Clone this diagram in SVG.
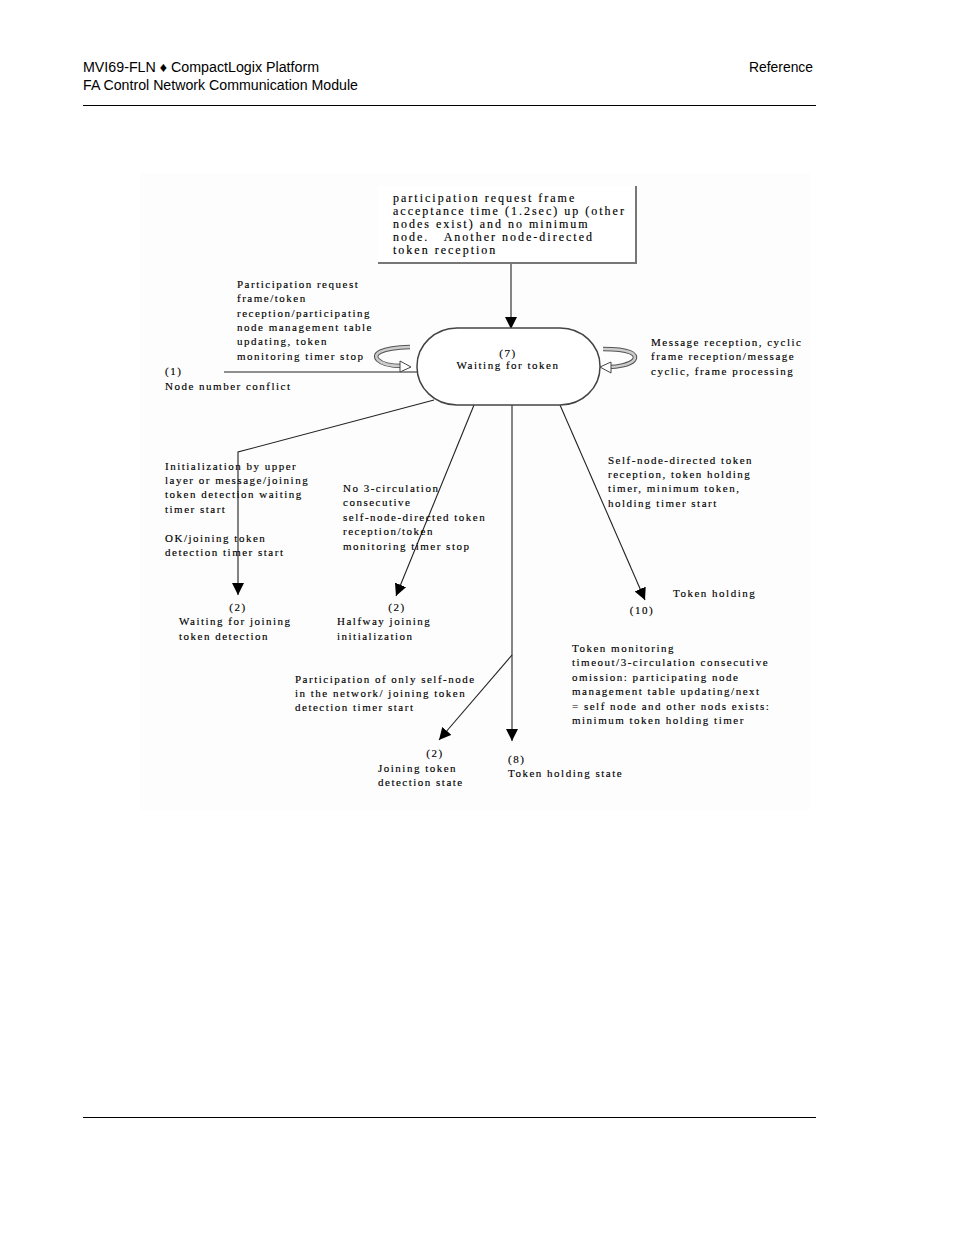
<svg xmlns="http://www.w3.org/2000/svg" width="954" height="1235" viewBox="0 0 954 1235">
<style>
.hdr{font-family:"Liberation Sans",Arial,sans-serif;font-size:14px;fill:#000}
.t{font-family:"Liberation Serif","Times New Roman",serif;font-size:11px;letter-spacing:1.5px;fill:#000;stroke:#000;stroke-width:0.15}
.b{font-size:12px;letter-spacing:2px}
.c{text-anchor:middle}
.ln{stroke:#222;stroke-width:1.1;fill:none}
.rule{stroke:#000;stroke-width:1}
</style>
<defs>
<marker id="ah" viewBox="0 0 12 12" refX="12" refY="6" markerWidth="12" markerHeight="12" markerUnits="userSpaceOnUse" orient="auto">
<path d="M0,0 L12,6 L0,12 z" fill="#000"/>
</marker>
</defs>
<rect width="954" height="1235" fill="#fff"/>
<rect x="140" y="173" width="670" height="637" fill="#fdfdfd"/>
<g id="header">
<text class="hdr" x="83" y="72" textLength="236" lengthAdjust="spacingAndGlyphs">MVI69-FLN ♦ CompactLogix Platform</text>
<text class="hdr" x="83" y="90" textLength="275" lengthAdjust="spacingAndGlyphs">FA Control Network Communication Module</text>
<text class="hdr" x="813" y="72" text-anchor="end" textLength="64" lengthAdjust="spacingAndGlyphs">Reference</text>
<line class="rule" x1="83" y1="105.5" x2="816" y2="105.5"/>
</g>
<g id="footer"><line class="rule" x1="83" y1="1117.5" x2="816" y2="1117.5"/></g>

<g id="connectors">
<line class="ln" x1="511" y1="263" x2="511" y2="329" marker-end="url(#ah)"/>
<line class="ln" x1="224" y1="372" x2="417" y2="372"/>
<polyline class="ln" points="434,400 238,452 238,595" marker-end="url(#ah)"/>
<line class="ln" x1="474" y1="405" x2="396" y2="596" marker-end="url(#ah)"/>
<line class="ln" x1="512" y1="405" x2="512" y2="741" marker-end="url(#ah)"/>
<line class="ln" x1="512" y1="655" x2="439" y2="740" marker-end="url(#ah)"/>
<line class="ln" x1="560" y1="405" x2="645" y2="600" marker-end="url(#ah)"/>
<!-- self loops -->
<path d="M410,347 C380,348 372,354 378,360 C383,365 395,366 402,366" fill="none" stroke="#555" stroke-width="4.5"/>
<path d="M410,347 C380,348 372,354 378,360 C383,365 395,366 402,366" fill="none" stroke="#ccc" stroke-width="2.5"/>
<path d="M400,361 L411,367 L400,372 z" fill="#fff" stroke="#444" stroke-width="1"/>
<path d="M603,349 C630,349 638,354 634,360 C630,365 616,367 609,367" fill="none" stroke="#555" stroke-width="4.5"/>
<path d="M603,349 C630,349 638,354 634,360 C630,365 616,367 609,367" fill="none" stroke="#ccc" stroke-width="2.5"/>
<path d="M611,362 L600,367 L611,373 z" fill="#fff" stroke="#444" stroke-width="1"/>
</g>

<g id="n-top">
<rect x="378" y="186" width="258" height="77" fill="#fff"/>
<polyline points="636,186 636,263 378,263" fill="none" stroke="#777" stroke-width="2"/>
<text class="t b" x="393" y="202">participation request frame</text>
<text class="t b" x="393" y="215">acceptance time (1.2sec) up (other</text>
<text class="t b" x="393" y="228">nodes exist) and no minimum</text>
<text class="t b" x="393" y="241" xml:space="preserve">node.   Another node-directed</text>
<text class="t b" x="393" y="254">token reception</text>
</g>

<g id="n7">
<rect x="417" y="328" width="183" height="77" rx="40" ry="38" fill="#fff" stroke="#444" stroke-width="1.5"/>
<text class="t c" x="508" y="357">(7)</text>
<text class="t c" x="508" y="369">Waiting for token</text>
</g>

<g id="lbl-left">
<text class="t" x="237" y="288">Participation request</text>
<text class="t" x="237" y="302">frame/token</text>
<text class="t" x="237" y="317">reception/participating</text>
<text class="t" x="237" y="331">node management table</text>
<text class="t" x="237" y="345">updating, token</text>
<text class="t" x="237" y="360">monitoring timer stop</text>
</g>

<g id="n1">
<text class="t" x="165" y="375">(1)</text>
<text class="t" x="165" y="390">Node number conflict</text>
</g>

<g id="lbl-right">
<text class="t" x="651" y="346">Message reception, cyclic</text>
<text class="t" x="651" y="360">frame reception/message</text>
<text class="t" x="651" y="375">cyclic, frame processing</text>
</g>

<g id="lbl-init">
<text class="t" x="165" y="470">Initialization by upper</text>
<text class="t" x="165" y="484">layer or message/joining</text>
<text class="t" x="165" y="498">token detection waiting</text>
<text class="t" x="165" y="513">timer start</text>
<text class="t" x="165" y="542">OK/joining token</text>
<text class="t" x="165" y="556">detection timer start</text>
</g>

<g id="n2a">
<text class="t c" x="238" y="611">(2)</text>
<text class="t" x="179" y="625">Waiting for joining</text>
<text class="t" x="179" y="640">token detection</text>
</g>

<g id="lbl-no3">
<text class="t" x="343" y="492">No 3-circulation</text>
<text class="t" x="343" y="506">consecutive</text>
<text class="t" x="343" y="521">self-node-directed token</text>
<text class="t" x="343" y="535">reception/token</text>
<text class="t" x="343" y="550">monitoring timer stop</text>
</g>

<g id="n2b">
<text class="t c" x="397" y="611">(2)</text>
<text class="t" x="337" y="625">Halfway joining</text>
<text class="t" x="337" y="640">initialization</text>
</g>

<g id="lbl-self">
<text class="t" x="608" y="464">Self-node-directed token</text>
<text class="t" x="608" y="478">reception, token holding</text>
<text class="t" x="608" y="492">timer, minimum token,</text>
<text class="t" x="608" y="507">holding timer start</text>
</g>

<g id="n10">
<text class="t" x="673" y="597">Token holding</text>
<text class="t c" x="642" y="614">(10)</text>
</g>

<g id="lbl-only">
<text class="t" x="295" y="683">Participation of only self-node</text>
<text class="t" x="295" y="697">in the network/ joining token</text>
<text class="t" x="295" y="711">detection timer start</text>
</g>

<g id="n2c">
<text class="t c" x="435" y="757">(2)</text>
<text class="t" x="378" y="772">Joining token</text>
<text class="t" x="378" y="786">detection state</text>
</g>

<g id="n8">
<text class="t" x="508" y="763">(8)</text>
<text class="t" x="508" y="777">Token holding state</text>
</g>

<g id="lbl-mon">
<text class="t" x="572" y="652">Token monitoring</text>
<text class="t" x="572" y="666">timeout/3-circulation consecutive</text>
<text class="t" x="572" y="681">omission: participating node</text>
<text class="t" x="572" y="695">management table updating/next</text>
<text class="t" x="572" y="710">= self node and other nods exists:</text>
<text class="t" x="572" y="724">minimum token holding timer</text>
</g>
</svg>
